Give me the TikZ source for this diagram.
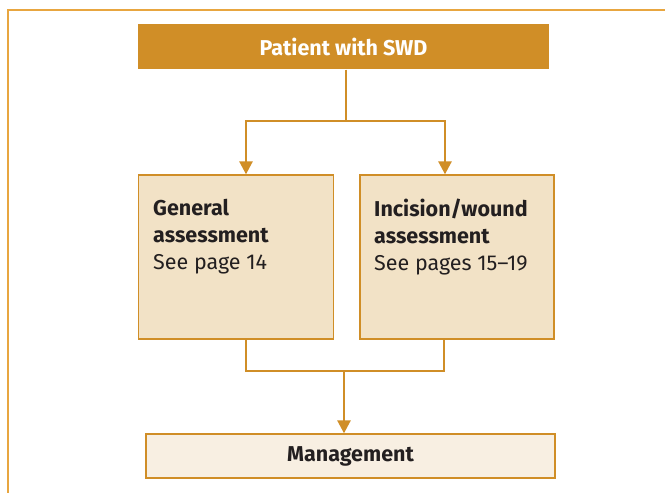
\documentclass[tikz,border=0pt]{standalone}
\usepackage{fontspec}
\setmainfont{Fira Sans}
\usetikzlibrary{arrows.meta}
\definecolor{gold}{HTML}{D08E27}
\definecolor{sand}{HTML}{F2E2C6}
\definecolor{cream}{HTML}{F8EFE2}
\definecolor{ink}{HTML}{231F20}
\definecolor{rim}{HTML}{E8A640}
\tikzset{
  flow/.style={draw=gold,line width=2.6pt},
  arr/.style={flow,-{Triangle[width=13pt,length=13pt]}},
  box/.style={draw=gold,fill=sand,line width=1.3pt,inner sep=0pt},
  note/.style={align=left,inner sep=0pt,anchor=north west}
}
\begin{document}
\begin{tikzpicture}[x=1pt,y=-1pt,
  every node/.style={font=\fontsize{21.5}{27}\selectfont,text=ink}]
  \useasboundingbox (0,0) rectangle (665,493);
  \fill[white] (0,0) rectangle (665,493);
  \draw[rim,line width=1.3pt] (8,493) -- (8,10) -- (665,10);

  \begin{scope}
    \node[box,fill=gold,draw=none,minimum width=411pt,minimum height=45pt,
      text=white,font=\fontsize{21.5}{27}\selectfont\bfseries] (patient) at (343.5,46.5) {Patient with SWD};
    \node[box,minimum width=195pt,minimum height=164pt] (general) at (236,257) {};
    \node[box,minimum width=194pt,minimum height=164pt] (incision) at (457,257) {};
    \node[box,fill=cream,minimum width=409pt,minimum height=44pt,
      font=\fontsize{21.5}{27}\selectfont\bfseries] (manage) at (350.5,456) {Management};

    \node[note] (generalText) at (153,199) {\bfseries General\\\bfseries assessment\\See page 14};
    \node[note] (incisionText) at (374,199) {\bfseries Incision/wound\\\bfseries assessment\\See pages 15--19};

    \coordinate (split) at (346,121);
    \coordinate (join) at (344,371);

    \draw[flow] (patient.south -| split) -- (split);
    \draw[arr] (split) -| ([xshift=10pt]general.north);
    \draw[arr] (split) -| ([xshift=-12pt]incision.north);
    \draw[flow] ([xshift=10pt]general.south) |- (join) -| ([xshift=-13pt]incision.south);
    \draw[arr] (join) -- (manage.north -| join);
  \end{scope}
\end{tikzpicture}
\end{document}
